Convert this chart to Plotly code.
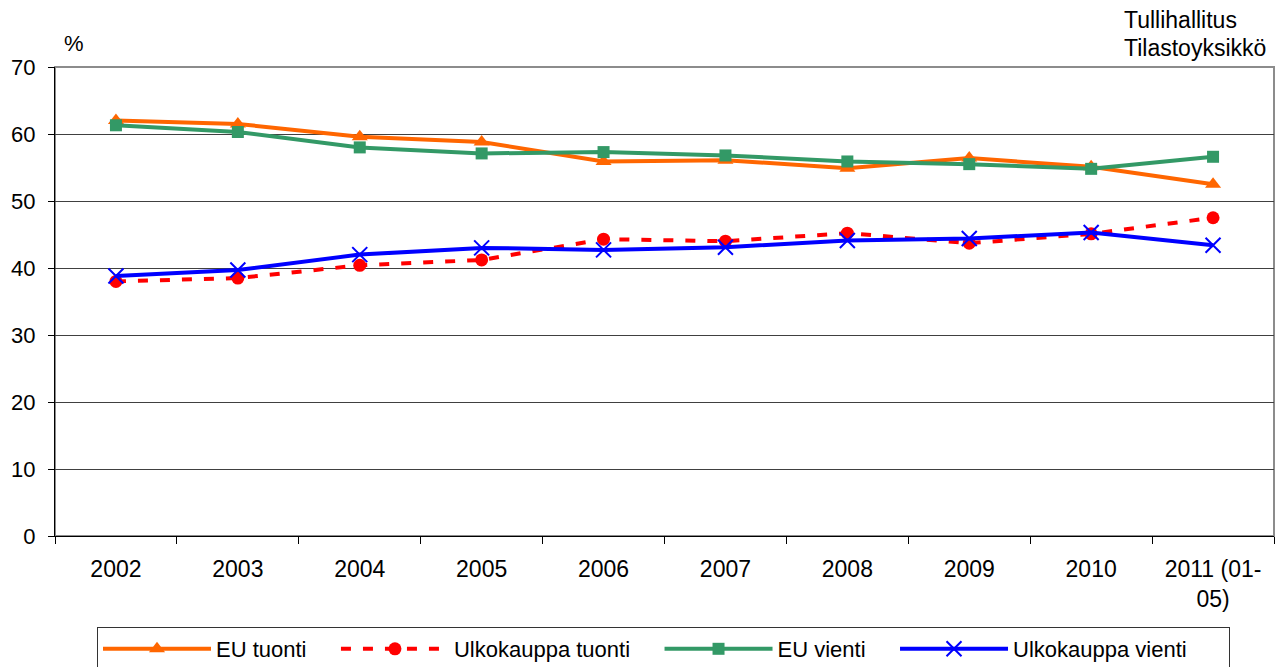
import plotly.graph_objects as go

years = ["2002", "2003", "2004", "2005", "2006", "2007", "2008", "2009", "2010", "2011 (01-<br>05)"]
eu_tuonti = [62.0, 61.5, 59.6, 58.8, 55.9, 56.1, 54.9, 56.4, 55.1, 52.5]
ulko_tuonti = [38.0, 38.5, 40.4, 41.2, 44.3, 44.0, 45.2, 43.7, 45.1, 47.5]
eu_vienti = [61.3, 60.3, 58.0, 57.1, 57.3, 56.8, 55.9, 55.5, 54.8, 56.6]
ulko_vienti = [38.8, 39.7, 42.0, 43.0, 42.7, 43.1, 44.1, 44.4, 45.3, 43.4]

FONT = "Liberation Sans, Arial, sans-serif"
W, H = 1283, 667
L, R, T, B = 55, 9, 67, 131
PW, PH = W - L - R, H - T - B
PAD = "\u00a0" * 4
PAD_LAST = "\u00a0" * 6

fig = go.Figure()
fig.add_trace(go.Scatter(x=years, y=eu_tuonti, name="EU tuonti" + PAD, mode="lines+markers",
                         line=dict(color="#FF6600", width=4),
                         marker=dict(symbol="triangle-up", size=14, color="#FF6600")))
fig.add_trace(go.Scatter(x=years, y=ulko_tuonti, name="Ulkokauppa tuonti" + PAD, mode="lines+markers",
                         line=dict(color="#FF0000", width=4, dash="10px,12px"),
                         marker=dict(symbol="circle", size=13, color="#FF0000")))
fig.add_trace(go.Scatter(x=years, y=eu_vienti, name="EU vienti" + PAD, mode="lines+markers",
                         line=dict(color="#339966", width=4),
                         marker=dict(symbol="square", size=12, color="#339966")))
fig.add_trace(go.Scatter(x=years, y=ulko_vienti, name="Ulkokauppa vienti" + PAD_LAST, mode="lines+markers",
                         line=dict(color="#0000FF", width=4),
                         marker=dict(symbol="x-thin", size=15, color="#0000FF",
                                     line=dict(color="#0000FF", width=2))))

fig.add_shape(type="rect", xref="paper", yref="paper", x0=0, x1=1, y0=0, y1=1,
              line=dict(color="#8c8c8c", width=2), layer="below")

fig.update_layout(
    width=W, height=H,
    margin=dict(l=L, r=R, t=T, b=B, autoexpand=False),
    paper_bgcolor="white", plot_bgcolor="white",
    font=dict(family=FONT, size=23, color="black"),
    showlegend=True,
    legend=dict(orientation="h", x=(97 - L) / PW, xanchor="left", y=-(627 - 536) / PH, yanchor="top",
                bordercolor="#333333", borderwidth=1,
                font=dict(family=FONT, size=22, color="black"),
                itemwidth=108),
    xaxis=dict(type="category", tickson="boundaries", ticks="outside", ticklen=7,
               tickcolor="black", showline=True, linecolor="black", linewidth=1,
               showgrid=False, range=[-0.5, 9.5], ticklabelstandoff=12,
               tickfont=dict(family=FONT, size=23, color="black")),
    yaxis=dict(range=[0, 70], dtick=10, ticks="outside", ticklen=6, tickcolor="black",
               showline=True, linecolor="black", linewidth=1, ticklabelstandoff=8,
               showgrid=True, gridcolor="#404040", gridwidth=1, zeroline=False,
               tickfont=dict(family=FONT, size=22, color="black")),
    annotations=[
        dict(text="%", xref="paper", yref="paper", x=(74 - L) / PW, y=1 + (T - 44) / PH,
             xanchor="center", yanchor="middle", showarrow=False,
             font=dict(family=FONT, size=22, color="black")),
        dict(text="Tullihallitus", xref="paper", yref="paper", x=(1122 - L) / PW,
             y=1 + (T - 20) / PH, xanchor="left", yanchor="middle", showarrow=False,
             font=dict(family=FONT, size=23, color="black")),
        dict(text="Tilastoyksikkö", xref="paper", yref="paper", x=(1122 - L) / PW,
             y=1 + (T - 48) / PH, xanchor="left", yanchor="middle", showarrow=False,
             font=dict(family=FONT, size=23, color="black")),
    ],
)

fig.write_html("out.html", config={"displayModeBar": False},
               post_script="document.body.style.margin='0';document.body.style.overflow='hidden';")
